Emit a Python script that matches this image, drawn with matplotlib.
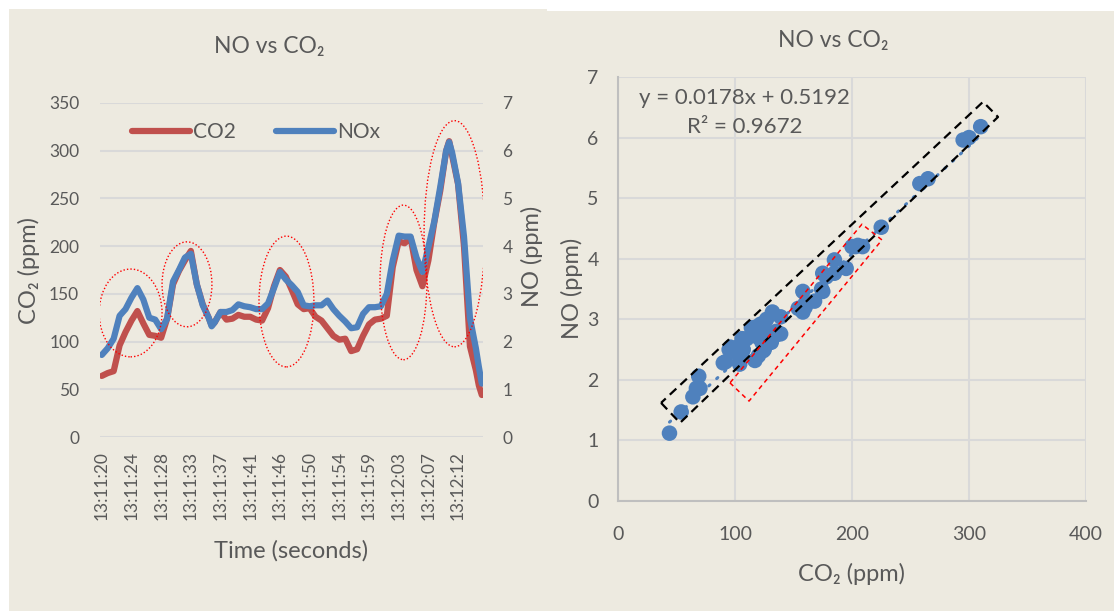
import matplotlib
matplotlib.use('Agg')
import matplotlib.pyplot as plt
import numpy as np
from matplotlib.patches import Ellipse, Polygon, Rectangle
from matplotlib.lines import Line2D

plt.rcParams['font.family'] = ['Lato', 'DejaVu Sans']

# sample number (about 0.43 s apart)
sample = [0, 2, 4, 6, 8, 10, 12, 14, 16, 18, 20, 22, 24, 26, 28, 30, 32, 34, 36, 37, 38, 40,
          42, 44, 46, 48, 50, 52, 54, 56, 58, 60, 62, 64, 66, 68, 70, 72, 74, 76, 78, 80,
          82, 84, 86, 88, 90, 92, 94, 96, 98, 100, 102, 104, 106, 108, 110, 112, 114, 116,
          117, 118, 120, 122, 124, 126, 127, 128]
co2 = [64, 67, 69, 96, 110, 122, 132, 119, 107, 106, 104, 124, 160, 174, 185, 195, 160, 139, 125, 117, 120, 131,
       123, 124, 128, 126, 126, 123, 122, 135, 158, 175, 168, 154, 139, 134, 135, 126, 122, 114, 106, 102,
       103, 90, 92, 106, 118, 123, 124, 127, 178, 205, 203, 209, 175, 158, 185, 225, 258, 300,
       310, 295, 265, 200, 95, 70, 54, 44]
nox = [1.72, 1.86, 2.06, 2.54, 2.68, 2.92, 3.12, 2.88, 2.50, 2.46, 2.26, 2.48, 3.26, 3.50, 3.76, 3.84, 3.20, 2.76, 2.50, 2.32, 2.40, 2.62,
       2.62, 2.66, 2.78, 2.74, 2.72, 2.68, 2.68, 2.80, 3.12, 3.46, 3.30, 3.18, 3.04, 2.76, 2.74, 2.76, 2.76, 2.86, 2.68, 2.54,
       2.42, 2.28, 2.30, 2.58, 2.72, 2.72, 2.74, 3.00, 3.70, 4.22, 4.20, 4.20, 3.76, 3.46, 3.98, 4.52, 5.24, 6.00,
       6.18, 5.96, 5.32, 4.20, 2.50, 1.86, 1.47, 1.12]
time_labels = ['13:11:20', '13:11:24', '13:11:28', '13:11:33', '13:11:37', '13:11:41', '13:11:46',
               '13:11:50', '13:11:54', '13:11:59', '13:12:03', '13:12:07', '13:12:12']
label_every = 10

slope, intercept, r2 = 0.0178, 0.5192, 0.9672

# highlighted peaks on the time plot: (sample, CO2, width, height)
peaks = [(9.7, 130, 21.2, 92), (28.7, 160, 16.8, 89), (62.2, 142, 18.5, 137),
         (101.6, 162, 15.8, 162), (118.8, 213, 20.5, 237)]
# dashed boxes on the scatter (CO2, NO corners)
box_black = [(36.8, 1.62), (53.0, 1.29), (324.8, 6.34), (312.0, 6.59)]
box_red = [(95.7, 1.95), (112.0, 1.65), (225.6, 4.31), (208.5, 4.57)]

red = '#C0504D'
blue = '#4F81BD'
grey = '#595959'
grid = '#D9D9D9'
beige = '#EDEAE0'

W, H = 1114, 611
fig = plt.figure(figsize=(W / 100, H / 100), dpi=100, facecolor='white')
fig.patches.append(Rectangle((9 / W, 0), 538 / W, (H - 9) / H, transform=fig.transFigure,
                             facecolor=beige, edgecolor='none', zorder=-10))
fig.patches.append(Rectangle((547 / W, 0), (W - 547) / W, (H - 11) / H, transform=fig.transFigure,
                             facecolor=beige, edgecolor='none', zorder=-10))


def box(x0, y0, x1, y1):
    return [x0 / W, 1 - y1 / H, (x1 - x0) / W, (y1 - y0) / H]


def label(px, py, s, rot=0, size=17):
    fig.text(px / W, 1 - py / H, s, ha='center', va='center', rotation=rot,
             fontsize=size, color=grey)


# ---- left: time series ----
ax = fig.add_axes(box(100, 103, 483, 437))
ax.set_facecolor('none')
ax2 = ax.twinx()
ax.plot(sample, co2, color=red, lw=4.5, solid_capstyle='round', solid_joinstyle='round')
ax2.plot(sample, nox, color=blue, lw=4.5, solid_capstyle='round', solid_joinstyle='round')
ax.set_xlim(-0.6, 128.4)
ax.set_ylim(0, 350)
ax2.set_ylim(0, 7)
ax.set_yticks(np.arange(0, 351, 50))
ax2.set_yticks(np.arange(0, 8, 1))
ax.set_xticks(np.arange(len(time_labels)) * label_every)
ax.set_xticklabels(time_labels, rotation=90)
ax.grid(axis='y', color=grid, lw=1.5)
ax.set_axisbelow(True)
for a in (ax, ax2):
    for s in a.spines.values():
        s.set_visible(False)
ax.tick_params(axis='y', length=0, pad=15, labelsize=12.5, labelcolor=grey)
ax.tick_params(axis='x', length=0, pad=10, labelsize=12.5, labelcolor=grey)
ax2.tick_params(axis='y', length=0, pad=14, labelsize=12.5, labelcolor=grey)

for cx, cy, w, h in peaks:
    ax2.add_patch(Ellipse((cx, cy), w, h, transform=ax.transData, fill=False,
                          edgecolor='red', lw=1.0, ls=(0, (1, 1.5)), zorder=5))

handles = [Line2D([], [], color=red, lw=4.5, solid_capstyle='round'),
           Line2D([], [], color=blue, lw=4.5, solid_capstyle='round')]
fig.legend(handles, ['CO2', 'NOx'], loc='center left', bbox_to_anchor=(113 / W, 1 - 132 / H),
           ncol=2, frameon=False, fontsize=15, labelcolor=grey, handlelength=2.8,
           handletextpad=0.15, columnspacing=1.9)
label(269, 46, 'NO vs CO₂', size=16.5)
label(291, 551, 'Time (seconds)')
label(29, 271, 'CO₂ (ppm)', rot=90)
label(532, 256, 'NO (ppm)', rot=90)

# ---- right: scatter ----
bx = fig.add_axes(box(618, 77, 1086, 501))
bx.set_facecolor('none')
xs = np.array(co2)
bx.scatter(xs, nox, s=125, color=blue, edgecolors='none', zorder=3)
xt = np.array([xs.min(), xs.max()])
bx.plot(xt, slope * xt + intercept, color=blue, lw=2.2, ls=(0, (0.5, 3)),
        dash_capstyle='round', zorder=4)
bx.add_patch(Polygon(box_black, closed=True, fill=False, edgecolor='black', lw=1.6,
                     ls=(0, (4, 2.5)), joinstyle='round', zorder=6))
bx.add_patch(Polygon(box_red, closed=True, fill=False, edgecolor='red', lw=1.1,
                     ls=(0, (3, 2.5)), joinstyle='round', zorder=6))
bx.set_xlim(0, 400)
bx.set_ylim(0, 7)
bx.set_xticks(np.arange(0, 401, 100))
bx.set_yticks(np.arange(0, 8, 1))
bx.grid(True, color=grid, lw=1.5)
bx.set_axisbelow(True)
for k in ('top', 'right'):
    bx.spines[k].set_visible(False)
for k in ('left', 'bottom'):
    bx.spines[k].set_color('#BFBFBF')
    bx.spines[k].set_linewidth(1.5)
bx.tick_params(axis='x', length=0, pad=18, labelsize=14, labelcolor=grey)
bx.tick_params(axis='y', length=0, pad=14, labelsize=14, labelcolor=grey)
bx.text(0.27, 0.95, f'y = {slope}x + {intercept}', transform=bx.transAxes, ha='center',
        va='center', fontsize=16, color=grey, zorder=7)
bx.text(0.27, 0.882, f'R² = {r2}', transform=bx.transAxes, ha='center', va='center',
        fontsize=16, color=grey, zorder=7)
label(833, 40, 'NO vs CO₂', size=16.5)
label(852, 574, 'CO₂ (ppm)')
label(572, 288, 'NO (ppm)', rot=90)

fig.savefig('out.png', dpi=100, facecolor='white')
